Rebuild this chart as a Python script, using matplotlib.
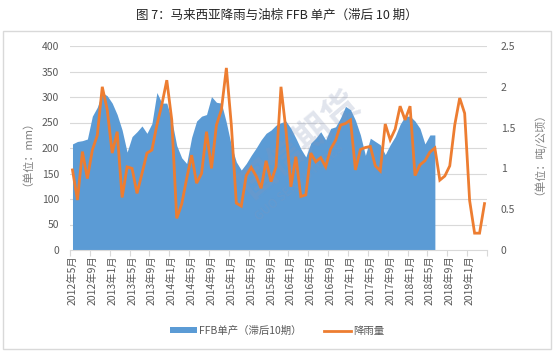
import matplotlib
matplotlib.use('Agg')
import matplotlib.pyplot as plt
import numpy as np
from matplotlib.patches import Patch, Rectangle
from matplotlib.lines import Line2D

plt.rcParams['font.family'] = ['Noto Sans CJK SC', 'DejaVu Sans']

# ---- data ----
tick_labels = ["2012年5月", "2012年9月", "2013年1月", "2013年5月", "2013年9月",
               "2014年1月", "2014年5月", "2014年9月", "2015年1月", "2015年5月",
               "2015年9月", "2016年1月", "2016年5月", "2016年9月", "2017年1月",
               "2017年5月", "2017年9月", "2018年1月", "2018年5月", "2018年9月",
               "2019年1月"]

# 降雨量 (mm), monthly from 2012年5月 to 2019年4月
rainfall = [157, 98, 193, 140, 196, 225, 320, 275, 190, 232, 103, 163,
            160, 111, 150, 190, 196, 245, 285, 333, 255, 62, 90, 140,
            186, 131, 150, 232, 160, 245, 275, 357, 245, 92, 86, 146,
            162, 145, 121, 175, 134, 163, 320, 235, 124, 183, 105, 108,
            190, 173, 181, 163, 198, 215, 245, 248, 255, 157, 197, 201,
            203, 165, 155, 247, 216, 237, 282, 255, 282, 146, 167, 175,
            192, 200, 137, 145, 165, 245, 298, 268, 97, 33, 33, 91]

# FFB单产（滞后10期）(吨/公顷), monthly from 2012年5月 to 2018年6月
ffb = [1.30, 1.33, 1.34, 1.36, 1.64, 1.75, 1.93, 1.89, 1.80, 1.66, 1.47, 1.20,
       1.39, 1.45, 1.52, 1.43, 1.55, 1.93, 1.80, 1.80, 1.59, 1.28, 1.13, 1.06,
       1.38, 1.58, 1.64, 1.66, 1.88, 1.81, 1.80, 1.56, 1.28, 1.08, 0.98, 1.06,
       1.16, 1.25, 1.35, 1.43, 1.47, 1.53, 1.56, 1.58, 1.49, 1.37, 1.24, 1.14,
       1.31, 1.37, 1.45, 1.35, 1.49, 1.51, 1.62, 1.76, 1.72, 1.59, 1.41, 1.16,
       1.37, 1.33, 1.29, 1.17, 1.29, 1.39, 1.54, 1.64, 1.64, 1.58, 1.49, 1.30,
       1.41, 1.41]

left_ticks = [0, 50, 100, 150, 200, 250, 300, 350, 400]
right_ticks = [0, 0.5, 1, 1.5, 2, 2.5]

# ---- styles ----
BLUE = "#5B9BD5"
ORANGE = "#ED7D31"
GRID = "#D9D9D9"
TXT = "#595959"

W, H = 554, 353
fig = plt.figure(figsize=(W / 100, H / 100), dpi=100)
fig.patch.set_facecolor("white")

# outer border
fig.patches.append(Rectangle((3 / W, 1 - 349 / H), 548 / W, 318 / H,
                             transform=fig.transFigure, fill=False,
                             edgecolor=GRID, lw=1.0))

fig.text(0.5, 1 - 15 / H, "图 7：马来西亚降雨与油棕 FFB 单产（滞后 10 期）",
         ha="center", va="center", fontsize=9, color="#262626")

x0, x1, y0, y1 = 70, 487, 46, 250
ax1 = fig.add_axes([x0 / W, 1 - y1 / H, (x1 - x0) / W, (y1 - y0) / H])
ax2 = ax1.twinx()
ax1.set_zorder(2)
ax2.set_zorder(1)
ax1.patch.set_visible(False)

n = len(rainfall)
x = np.arange(n)
xf = np.arange(len(ffb))

ax1.set_xlim(-0.5, n - 0.5)
ax1.set_ylim(0, 400)
ax2.set_ylim(0, 2.5)

# gridlines behind area (drawn in ax2 with left-axis data coordinates)
for v in left_ticks[1:]:
    ax2.plot([0, 1], [v, v], transform=ax1.get_yaxis_transform(),
             color=GRID, lw=0.8, zorder=0)

ax2.fill_between(xf, 0, ffb, color=BLUE, lw=0, zorder=1)
ax1.plot(x, rainfall, color=ORANGE, lw=2.0, zorder=3, solid_joinstyle="miter")

# watermark
ax1.text(0.55, 0.52, "国信期货", transform=ax1.transAxes, rotation=40,
         fontsize=26, color="#8896B8", alpha=0.25, ha="center", va="center",
         fontweight="bold", zorder=2.5)
ax1.text(0.55, 0.33, "GUO SEN FUTURES", transform=ax1.transAxes, rotation=40,
         fontsize=9, color="#8896B8", alpha=0.25, ha="center", va="center",
         zorder=2.5)

# axes styling
for sp in ["top", "left", "right"]:
    ax1.spines[sp].set_visible(False)
    ax2.spines[sp].set_visible(False)
ax2.spines["bottom"].set_visible(False)
ax1.spines["bottom"].set_color(GRID)
ax1.spines["bottom"].set_linewidth(0.8)

ax1.set_yticks(left_ticks)
ax1.tick_params(axis="y", length=0, labelsize=7.5, labelcolor=TXT, pad=8)
ax2.set_yticks(right_ticks)
ax2.set_yticklabels([f"{t:g}" for t in right_ticks])
ax2.tick_params(axis="y", length=0, labelsize=7.5, labelcolor=TXT, pad=10)

ax1.set_xticks(np.arange(0, n, 4))
ax1.set_xticklabels(tick_labels, rotation=90, fontsize=7.5, color=TXT)
ax1.tick_params(axis="x", which="major", length=0, pad=4)
ax1.set_xticks(np.arange(-0.5, n, 4), minor=True)
ax1.tick_params(axis="x", which="minor", length=4, color=GRID, width=0.8)

ax1.set_ylabel("（单位：mm）", fontsize=8, color="#7F7F7F")
ax1.yaxis.set_label_coords((27 - x0) / (x1 - x0), 0.5)
ax2.set_ylabel("（单位：吨/公顷）", fontsize=8, color="#7F7F7F", rotation=90)
ax2.yaxis.set_label_coords((528 - x0) / (x1 - x0), 0.5)

handles = [Patch(facecolor=BLUE, edgecolor="none"),
           Line2D([0], [0], color=ORANGE, lw=2.0)]
fig.legend(handles, ["FFB单产（滞后10期）", "降雨量"], loc="center",
           bbox_to_anchor=(0.5, 1 - 331 / H), ncol=2, frameon=False,
           fontsize=7.5, handlelength=2.6, handleheight=0.5,
           columnspacing=2.2, handletextpad=0.2, labelcolor=TXT)

fig.savefig("out.png", dpi=100, facecolor="white")
